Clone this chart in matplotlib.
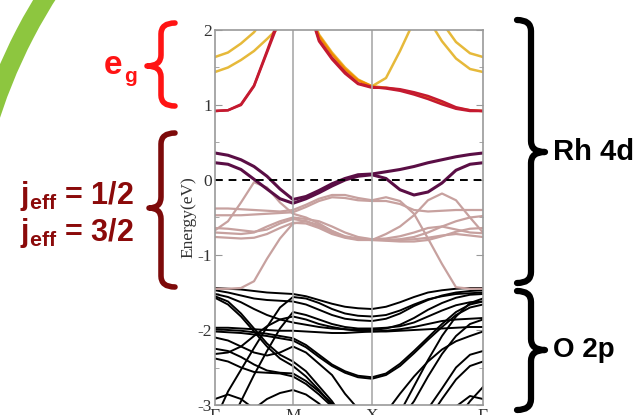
import numpy as np
import matplotlib.pyplot as plt
from matplotlib.path import Path
from matplotlib.patches import PathPatch, Wedge
from matplotlib.ticker import MultipleLocator

plt.rcParams['mathtext.fontset'] = 'custom'
plt.rcParams['mathtext.bf'] = 'Liberation Sans:bold'
plt.rcParams['mathtext.rm'] = 'Liberation Sans'
plt.rcParams['axes.unicode_minus'] = False

# k-path sample points (Gamma - M - X - Gamma)
kpts = [0, 13, 26, 39, 52, 65, 78, 91, 104, 117, 130, 143, 157,
        171, 185, 199, 213, 227, 241, 255, 268]
kticks = [0, 78, 157, 268]
klabels = ['Γ', 'M', 'X', 'Γ']

# e_g bands
eg_red = [
    [0.92, 0.93, 1.00, 1.25, 1.70, 2.15, 2.60, 2.40, 1.85, 1.61, 1.42, 1.28, 1.23,
     1.23, 1.21, 1.17, 1.12, 1.05, 0.97, 0.93, 0.92],
    [0.92, 0.93, 1.01, 1.26, 1.72, 2.20, 2.60, 2.45, 1.87, 1.63, 1.44, 1.29, 1.24,
     1.22, 1.19, 1.14, 1.08, 1.01, 0.95, 0.92, 0.92],
]
eg_orange = [
    [2.80, 2.80, 2.80, 2.80, 2.80, 2.80, 2.80, 2.35, 1.92, 1.68, 1.48, 1.33, 1.25,
     1.23, 1.20, 1.16, 1.10, 1.03, 0.96, 0.93, 0.92],
]
eg_yellow = [
    [1.64, 1.70, 1.82, 1.97, 2.20, 2.50, 2.80, 2.40, 1.94, 1.70, 1.50, 1.34, 1.25,
     1.36, 1.72, 2.12, 2.60, 2.10, 1.84, 1.69, 1.64],
    [1.44, 1.50, 1.60, 1.72, 1.88, 2.05, 2.40, 2.60, 2.60, 2.60, 2.60, 2.60, 2.60,
     2.60, 2.60, 2.60, 2.15, 1.85, 1.62, 1.48, 1.44],
]

# j_eff = 1/2 bands
jhalf = [
    [0.36, 0.33, 0.27, 0.18, 0.05, -0.12, -0.26, -0.22, -0.14, -0.05, 0.02, 0.07, 0.08,
     0.11, 0.14, 0.18, 0.23, 0.27, 0.31, 0.34, 0.36],
    [0.23, 0.21, 0.14, 0.01, -0.12, -0.25, -0.31, -0.25, -0.17, -0.08, 0.00, 0.05, 0.07,
     0.02, -0.13, -0.20, -0.16, -0.04, 0.13, 0.21, 0.23],
]

# j_eff = 3/2 bands
jthree = [
    [-0.38, -0.38, -0.39, -0.40, -0.41, -0.42, -0.40, -0.33, -0.25, -0.20, -0.20, -0.24, -0.27,
     -0.23, -0.28, -0.45, -0.78, -1.12, -1.43, -1.45, -1.45],
    [-0.47, -0.47, -0.47, -0.46, -0.45, -0.44, -0.43, -0.36, -0.28, -0.23, -0.24, -0.27, -0.28,
     -0.28, -0.32, -0.40, -0.42, -0.41, -0.40, -0.40, -0.40],
    [-0.67, -0.55, -0.30, -0.03, -0.10, -0.30, -0.45, -0.50, -0.58, -0.68, -0.76, -0.79, -0.80,
     -0.72, -0.62, -0.47, -0.27, -0.18, -0.27, -0.50, -0.70],
    [-0.64, -0.65, -0.67, -0.69, -0.66, -0.58, -0.52, -0.55, -0.62, -0.70, -0.76, -0.79, -0.80,
     -0.80, -0.79, -0.76, -0.70, -0.62, -0.55, -0.50, -0.48],
    [-0.76, -0.77, -0.78, -0.77, -0.72, -0.64, -0.57, -0.58, -0.64, -0.72, -0.77, -0.80, -0.80,
     -0.81, -0.82, -0.82, -0.80, -0.75, -0.69, -0.65, -0.64],
    [-1.45, -1.45, -1.44, -1.35, -1.05, -0.78, -0.58, -0.55, -0.60, -0.68, -0.75, -0.78, -0.79,
     -0.80, -0.80, -0.79, -0.77, -0.74, -0.72, -0.74, -0.76],
    [-0.70, -0.71, -0.72, -0.70, -0.62, -0.55, -0.50, -0.52, -0.55, -0.62, -0.70, -0.76, -0.79,
     -0.78, -0.75, -0.70, -0.64, -0.62, -0.66, -0.70, -0.71],
]

# O 2p bands
o2p = [
    [-1.44, -1.45, -1.46, -1.48, -1.50, -1.51, -1.52, -1.55, -1.60, -1.65, -1.69, -1.71, -1.72,
     -1.69, -1.63, -1.56, -1.50, -1.47, -1.45, -1.44, -1.44],
    [-1.47, -1.50, -1.54, -1.58, -1.60, -1.61, -1.62, -1.66, -1.73, -1.80, -1.85, -1.87, -1.88,
     -1.85, -1.78, -1.68, -1.60, -1.54, -1.50, -1.48, -1.47],
    [-1.52, -1.56, -1.63, -1.72, -1.80, -1.86, -1.90, -1.93, -1.96, -1.98, -1.99, -2.00, -2.00,
     -1.98, -1.93, -1.84, -1.73, -1.64, -1.57, -1.53, -1.52],
    [-1.97, -1.97, -1.98, -1.99, -2.00, -2.01, -2.01, -2.02, -2.03, -2.04, -2.04, -2.03, -2.02,
     -2.02, -2.01, -2.00, -1.99, -1.98, -1.97, -1.96, -1.96],
    [-1.99, -2.00, -2.01, -2.03, -2.05, -2.08, -2.11, -2.20, -2.33, -2.46, -2.55, -2.61, -2.63,
     -2.58, -2.45, -2.28, -2.10, -1.92, -1.76, -1.66, -1.62],
    [-2.02, -2.03, -2.04, -2.06, -2.08, -2.11, -2.14, -2.23, -2.36, -2.48, -2.57, -2.63, -2.65,
     -2.60, -2.48, -2.31, -2.13, -1.96, -1.80, -1.70, -1.66],
    [-3.20, -2.82, -2.53, -2.24, -1.96, -1.70, -1.56, -1.58, -1.64, -1.72, -1.78, -1.81, -1.82,
     -1.80, -1.74, -1.66, -1.59, -1.55, -1.52, -1.51, -1.50],
    [-3.40, -3.30, -2.95, -2.60, -2.28, -1.98, -1.76, -1.80, -1.86, -1.92, -1.96, -1.98, -1.98,
     -1.97, -1.95, -1.90, -1.82, -1.74, -1.67, -1.63, -1.62],
    [-2.32, -2.30, -2.22, -2.08, -1.95, -1.86, -1.82, -1.86, -1.92, -1.96, -1.99, -2.01, -2.02,
     -2.01, -1.99, -1.96, -1.92, -1.88, -1.86, -1.85, -1.84],
    [-1.55, -1.62, -1.78, -1.98, -2.18, -2.33, -2.42, -2.55, -2.75, -2.95, -3.20, -3.40, -3.40,
     -3.40, -3.20, -2.95, -2.62, -2.32, -2.08, -1.92, -1.86],
    [-2.25, -2.28, -2.36, -2.46, -2.54, -2.57, -2.58, -2.68, -2.82, -2.98, -3.15, -3.40, -3.40,
     -3.40, -3.40, -3.30, -3.05, -2.78, -2.50, -2.33, -2.28],
    [-2.38, -2.42, -2.50, -2.56, -2.57, -2.58, -2.62, -2.72, -2.86, -3.02, -3.20, -3.40, -3.40,
     -3.40, -3.40, -3.40, -3.20, -2.92, -2.66, -2.48, -2.42],
    [-2.92, -2.86, -2.92, -3.05, -3.20, -3.40, -3.40, -3.40, -3.40, -3.40, -3.40, -3.40, -3.40,
     -3.40, -3.40, -3.40, -3.40, -3.20, -3.02, -2.88, -2.92],
    [-3.40, -3.40, -3.22, -3.05, -2.92, -2.84, -2.80, -2.86, -2.98, -3.15, -3.40, -3.40, -3.40,
     -3.40, -3.40, -3.40, -3.40, -3.40, -3.20, -2.95, -2.76],
    [-1.57, -1.66, -1.82, -2.02, -2.22, -2.38, -2.48, -2.62, -2.80, -3.00, -3.20, -3.40, -3.40,
     -3.40, -3.10, -2.75, -2.40, -2.08, -1.82, -1.64, -1.58],
    [-2.10, -2.14, -2.22, -2.30, -2.34, -2.30, -2.22, -2.30, -2.45, -2.60, -2.85, -3.05, -3.20,
     -3.10, -2.85, -2.62, -2.42, -2.26, -2.15, -2.08, -2.02],
]

fig = plt.figure(figsize=(6.34, 4.15), dpi=100)

# decoration layer in pixel coordinates
deco = fig.add_axes([0, 0, 1, 1])
deco.set_xlim(0, 634)
deco.set_ylim(415, 0)
deco.axis('off')

deco.add_patch(Wedge((500, 281), 545, 185, 230, width=19, color='#8dc63f', lw=0))


def brace(x_end, x_spine, x_tip, y_top, y_tip, y_bot, color, lw, r=11):
    verts = [(x_end, y_top), (x_spine, y_top), (x_spine, y_top + r),
             (x_spine, y_tip - r), (x_spine, y_tip), (x_tip, y_tip),
             (x_spine, y_tip), (x_spine, y_tip + r),
             (x_spine, y_bot - r), (x_spine, y_bot), (x_end, y_bot)]
    codes = [Path.MOVETO, Path.CURVE3, Path.CURVE3,
             Path.LINETO, Path.CURVE3, Path.CURVE3,
             Path.CURVE3, Path.CURVE3,
             Path.LINETO, Path.CURVE3, Path.CURVE3]
    deco.add_patch(PathPatch(Path(verts, codes), fill=False, edgecolor=color,
                             lw=lw, capstyle='round', joinstyle='round'))


brace(175, 161, 147, 23, 66, 106, '#ff1414', 4.0)
brace(175, 161, 149, 133, 208, 287, '#7d0a0a', 4.0)
brace(517, 531, 545, 20, 152, 283, 'black', 4.5)
brace(517, 531, 545, 291, 350, 410, 'black', 4.5)

deco.text(104, 66, 'e', color='#ff1414', fontsize=24, fontweight='bold',
          family='Liberation Sans', va='center', ha='left')
deco.text(124, 77, 'g', color='#ff1414', fontsize=15, fontweight='bold',
          family='Liberation Sans', va='center', ha='left')
deco.text(20, 196, r'$\mathbf{j_{eff}}$ = 1/2', color='#8b0a0a', fontsize=22,
          fontweight='bold', family='Liberation Sans', va='center', ha='left')
deco.text(20, 233, r'$\mathbf{j_{eff}}$ = 3/2', color='#8b0a0a', fontsize=22,
          fontweight='bold', family='Liberation Sans', va='center', ha='left')
deco.text(553, 152, 'Rh 4d', color='black', fontsize=21, fontweight='bold',
          family='Liberation Sans', va='center', ha='left')
deco.text(553, 350, 'O 2p', color='black', fontsize=20, fontweight='bold',
          family='Liberation Sans', va='center', ha='left')

# band structure panel
ax = fig.add_axes([215 / 634, 10 / 415, 268 / 634, 375 / 415])
for b in o2p:
    ax.plot(kpts, b, color='black', lw=1.4)
for b in jthree:
    ax.plot(kpts, b, color='#c7a19f', lw=1.6)
for b in jhalf:
    ax.plot(kpts, b, color='#5a0e45', lw=2.2)
for b in eg_yellow:
    ax.plot(kpts, b, color='#e6b93a', lw=1.8)
for b in eg_orange:
    ax.plot(kpts, b, color='#f28a00', lw=1.8)
for b in eg_red:
    ax.plot(kpts, b, color='#c41a30', lw=1.8)

ax.axhline(0, color='black', lw=1.4, ls=(0, (4, 3)))
for k in kticks[1:-1]:
    ax.axvline(k, color='#aaaaaa', lw=1.2)

ax.set_xlim(kticks[0], kticks[-1])
ax.set_ylim(-3, 2)
ax.set_xticks(kticks)
ax.set_xticklabels(klabels)
ax.yaxis.set_major_locator(MultipleLocator(1))
ax.yaxis.set_minor_locator(MultipleLocator(0.5))
ax.tick_params(axis='x', length=0, pad=2, labelsize=12.5, labelcolor='#333333')
ax.tick_params(axis='y', which='both', direction='in', left=True, right=True,
               color='#999999', labelsize=12.5, labelcolor='#333333', pad=2)
ax.tick_params(axis='y', which='major', length=5)
ax.tick_params(axis='y', which='minor', length=3)
for lab in ax.get_xticklabels() + ax.get_yticklabels():
    lab.set_family('Liberation Serif')
for s in ax.spines.values():
    s.set_color('#999999')
    s.set_linewidth(1.2)
ax.set_ylabel('Energy(eV)', family='Liberation Serif', fontsize=12.5,
              color='#333333', labelpad=1)

fig.savefig('out.png', dpi=100)
